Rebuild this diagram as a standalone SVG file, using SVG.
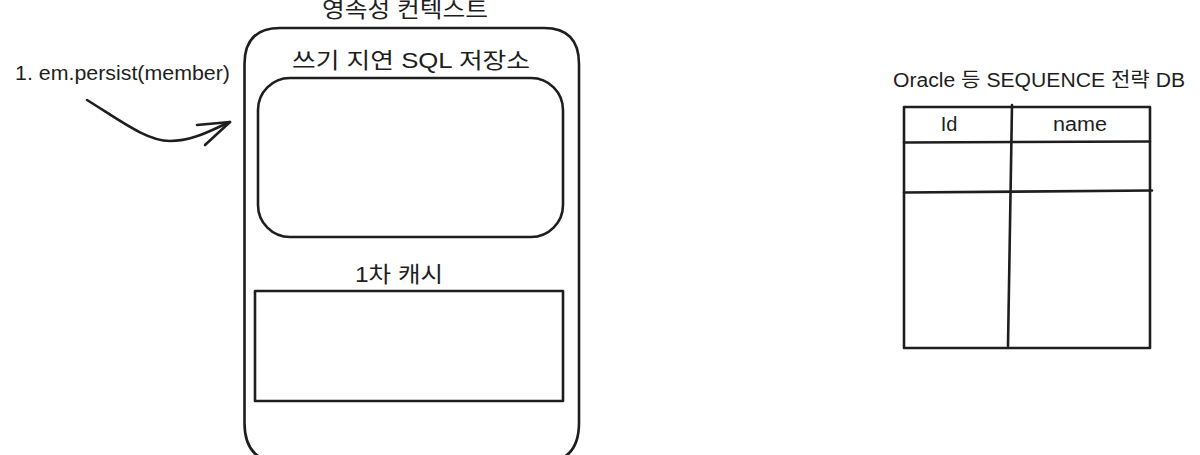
<svg xmlns="http://www.w3.org/2000/svg" width="1200" height="455" viewBox="0 0 1200 455">
<style>
.ln{fill:none;stroke:#1e1e1e;stroke-width:2.6;stroke-linecap:round;stroke-linejoin:round}
.t{font-family:"Liberation Sans","Noto Sans CJK KR",Arial,sans-serif;fill:#1e1e1e}
</style>
<rect width="1200" height="455" fill="#ffffff"/>
<g id="persistence-context">
<path class="ln" d="M244.5,64 Q244.5,28 280,28 L544,28 Q579,28 579,64 L579,423 Q579,463 540,463 L284,463 Q244.5,463 244.5,423 Z"/>
<text class="t" x="405" y="16.5" font-size="21.5" text-anchor="middle" textLength="166" lengthAdjust="spacingAndGlyphs">영속성 컨텍스트</text>
</g>
<g id="sql-store">
<text class="t" x="411" y="68" font-size="22" text-anchor="middle" textLength="238" lengthAdjust="spacingAndGlyphs">쓰기 지연 SQL 저장소</text>
<rect class="ln" x="258" y="78" width="305" height="159" rx="32" ry="32"/>
</g>
<g id="first-level-cache">
<text class="t" x="399" y="282" font-size="22" text-anchor="middle" textLength="88" lengthAdjust="spacingAndGlyphs">1차 캐시</text>
<rect class="ln" x="255" y="291" width="308" height="110"/>
</g>
<g id="sequence-db">
<text class="t" x="1039" y="87" font-size="20" text-anchor="middle" textLength="292" lengthAdjust="spacingAndGlyphs">Oracle 등 SEQUENCE 전략 DB</text>
<rect class="ln" x="904" y="107" width="246" height="241"/>
<path class="ln" d="M904,142.5 L1150,141.5"/>
<path class="ln" d="M904,192.5 L1152,190.5"/>
<path class="ln" d="M1012,105 L1008,346"/>
<text class="t" x="949" y="131" font-size="20" text-anchor="middle">Id</text>
<text class="t" x="1080" y="131" font-size="20" text-anchor="middle" textLength="54" lengthAdjust="spacingAndGlyphs">name</text>
</g>
<g id="connectors">
<text class="t" x="15" y="80" font-size="21" textLength="215" lengthAdjust="spacingAndGlyphs">1. em.persist(member)</text>
<path class="ln" d="M87,100 C118,119 146,141 170,141 C194,141 213,129 230,122"/>
<path class="ln" d="M197,125 L230,122 L205,145"/>
</g>
</svg>
